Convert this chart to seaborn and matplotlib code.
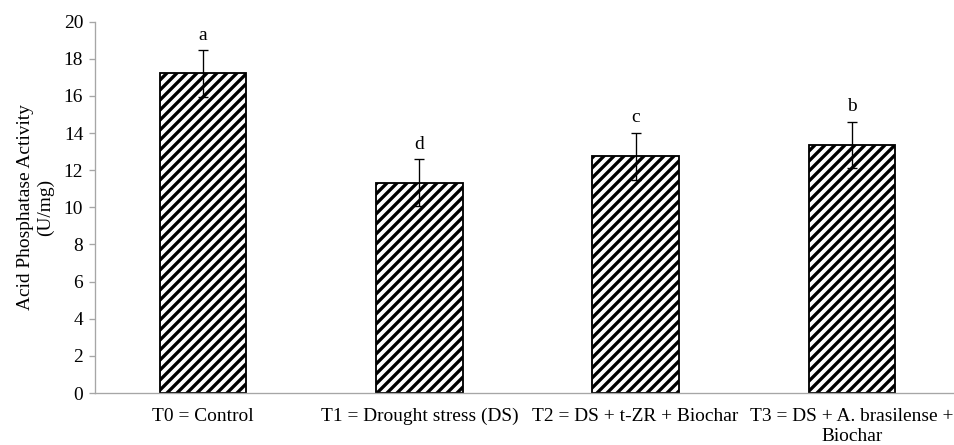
import numpy as np
import pandas as pd
import seaborn as sns
import matplotlib.pyplot as plt

treatments = ["T0 = Control", "T1 = Drought stress (DS)", "T2 = DS + t-ZR + Biochar",
              "T3 = DS + A. brasilense +\nBiochar"]
activity = [17.22, 11.33, 12.76, 13.36]
sd = [1.25, 1.26, 1.26, 1.26]
letters = ["a", "d", "c", "b"]

df = pd.DataFrame({"treatment": treatments, "activity": activity})

sns.set_theme(style="white")
plt.rcParams["font.family"] = ["Liberation Serif", "DejaVu Serif"]
plt.rcParams["hatch.linewidth"] = 2.0
plt.rcParams["hatch.color"] = "black"

grey = "#a6a6a6"
fs = 11.6
fig = plt.figure(figsize=(954 / 120, 445 / 120), dpi=120)
ax = fig.add_axes([95 / 954, 1 - 393 / 445, 865 / 954, (393 - 21.7) / 445])

sns.barplot(data=df, x="treatment", y="activity", color="white", saturation=1,
            edgecolor="black", linewidth=1.1, width=0.4, hatch="////",
            errorbar=None, ax=ax)
ax.errorbar(range(len(activity)), activity, yerr=sd, fmt="none", ecolor="black",
            elinewidth=0.8, capsize=2.8, capthick=0.8, zorder=5)

for i, (v, e, t) in enumerate(zip(activity, sd, letters)):
    ax.text(i, v + e + 0.35, t, ha="center", va="bottom", fontsize=fs, color="black")

ax.set_xlim(-0.5, 3.5)
ax.set_ylim(0, 20)
ax.set_yticks(np.arange(0, 21, 2))
ax.set_xlabel("")
ax.set_ylabel("Acid Phosphatase Activity\n(U/mg)", fontsize=fs, color="black", labelpad=6)

sns.despine(ax=ax)
for s in ["left", "bottom"]:
    ax.spines[s].set_color(grey)
    ax.spines[s].set_linewidth(0.8)

ax.set_xticks(np.arange(-0.5, 4, 1), minor=True)
ax.tick_params(axis="x", which="major", length=0, labelsize=fs, labelcolor="black", pad=9)
ax.tick_params(axis="x", which="minor", length=3.5, color=grey, width=0.8, direction="out")
ax.tick_params(axis="y", length=3.5, color=grey, width=0.8, direction="out",
               labelsize=fs, labelcolor="black", left=True)

fig.savefig("out.png", dpi=120)
